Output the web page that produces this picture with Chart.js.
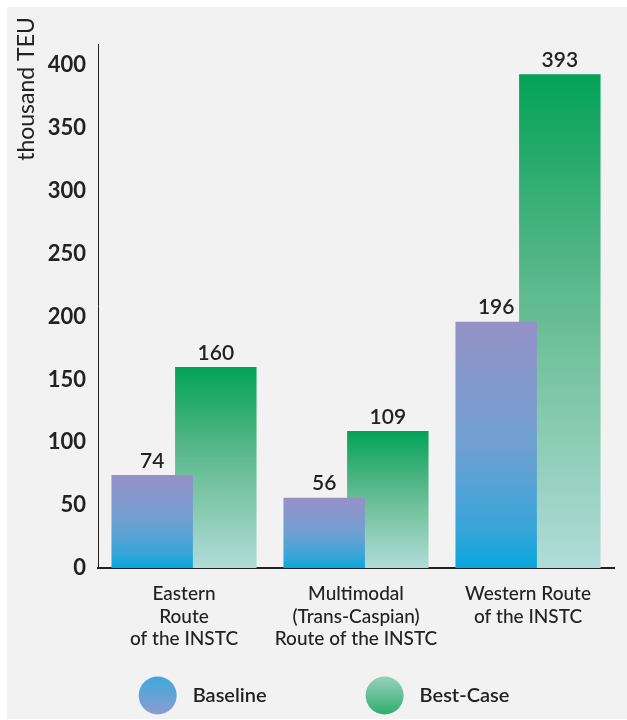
<!DOCTYPE html>
<html>
<head>
<meta charset="utf-8">
<script src="https://cdn.jsdelivr.net/npm/chart.js@4/dist/chart.umd.min.js"></script>
<style>
  html, body { margin: 0; padding: 0; background: #ffffff; }
  #panel { position: absolute; left: 7px; top: 7px; width: 620px; height: 712px; background: #f2f2f2; }
  canvas { display: block; }
</style>
</head>
<body>
<div id="panel"><canvas id="chart" width="620" height="712"></canvas></div>
<script>
// Container traffic by route, thousand TEU
const categories = [
  ["Eastern", "Route", "of the INSTC"],
  ["Multimodal", "(Trans-Caspian)", "Route of the INSTC"],
  ["Western Route", "of the INSTC"]
];
const seriesNames = ["Baseline", "Best-Case"];
const baselineValues = [74, 56, 196];
const bestCaseValues = [160, 109, 393];
const yTickValues = [0, 50, 100, 150, 200, 250, 300, 350, 400];
const yAxisTitle = "thousand TEU";

const INK = '#222222';
const FONT = 'Lato, "Open Sans", sans-serif';

// vertical colour ramps, top of bar first
const baselineStops = [[0, '#9591c6'], [0.5, '#70a0d3'], [0.85, '#36a5d9'], [1, '#05a7dc']];
const bestStops = [[0, '#02a357'], [0.35, '#4db483'], [0.6, '#78c4a2'], [1, '#b0dcd8']];
// legend swatches run the other way
const baselineSwatch = [[0, '#40a8dc'], [1, '#8b9cd0']];
const bestSwatch = [[0, '#98d1bc'], [1, '#2fad6f']];

function barGradient(stops) {
  return (ctx) => {
    const chart = ctx.chart;
    if (!chart.chartArea || ctx.type !== 'data') return stops[0][1];
    const y = chart.scales.y;
    const top = y.getPixelForValue(ctx.raw);
    const bottom = y.getPixelForValue(0);
    const g = chart.ctx.createLinearGradient(0, top, 0, bottom);
    stops.forEach(([o, c]) => g.addColorStop(o, c));
    return g;
  };
}

// numbers above each bar
const valueLabels = {
  id: 'valueLabels',
  afterDatasetsDraw(chart) {
    const ctx = chart.ctx;
    ctx.save();
    ctx.font = `600 21px ${FONT}`;
    ctx.fillStyle = INK;
    ctx.textAlign = 'center';
    ctx.textBaseline = 'middle';
    chart.data.datasets.forEach((ds, i) => {
      chart.getDatasetMeta(i).data.forEach((bar, j) => {
        ctx.fillText(String(ds.data[j]), bar.x, bar.y - 14);
      });
    });
    ctx.restore();
  }
};

// rotated axis caption near the top of the value axis
const axisCaption = {
  id: 'axisCaption',
  afterDraw(chart) {
    const ctx = chart.ctx;
    ctx.save();
    ctx.translate(20, 82);
    ctx.rotate(-Math.PI / 2);
    ctx.font = `400 23px ${FONT}`;
    ctx.fillStyle = INK;
    ctx.textAlign = 'center';
    ctx.textBaseline = 'middle';
    ctx.fillText(yAxisTitle, 0, 0);
    ctx.restore();
  }
};

// legend with round gradient swatches
const roundLegend = {
  id: 'roundLegend',
  afterDraw(chart) {
    const ctx = chart.ctx;
    const swatches = [baselineSwatch, bestSwatch];
    const r = 19, gapText = 16, gapItem = 99, cy = 688.5, centerX = 317;
    ctx.save();
    ctx.font = `600 20px ${FONT}`;
    const widths = chart.data.datasets.map(ds => ctx.measureText(ds.label).width);
    const total = widths.reduce((a, w) => a + 2 * r + gapText + w, 0) + gapItem * (widths.length - 1);
    let x = centerX - total / 2;
    chart.data.datasets.forEach((ds, i) => {
      const g = ctx.createLinearGradient(0, cy - r, 0, cy + r);
      swatches[i].forEach(([o, c]) => g.addColorStop(o, c));
      ctx.beginPath();
      ctx.arc(x + r, cy, r, 0, Math.PI * 2);
      ctx.fillStyle = g;
      ctx.fill();
      ctx.fillStyle = INK;
      ctx.textAlign = 'left';
      ctx.textBaseline = 'middle';
      ctx.fillText(ds.label, x + 2 * r + gapText, cy);
      x += 2 * r + gapText + widths[i] + gapItem;
    });
    ctx.restore();
  }
};

new Chart(document.getElementById('chart'), {
  type: 'bar',
  data: {
    labels: categories,
    datasets: [
      {
        label: seriesNames[0],
        data: baselineValues,
        backgroundColor: barGradient(baselineStops),
        borderWidth: 0,
        categoryPercentage: 0.74,
        barPercentage: 1.28
      },
      {
        label: seriesNames[1],
        data: bestCaseValues,
        backgroundColor: barGradient(bestStops),
        borderWidth: 0,
        categoryPercentage: 0.74,
        barPercentage: 1.28
      }
    ]
  },
  options: {
    responsive: false,
    animation: false,
    devicePixelRatio: 1,
    layout: { padding: { top: 37, right: 13, left: 0, bottom: 0 } },
    plugins: {
      legend: { display: false },
      tooltip: { enabled: false }
    },
    scales: {
      x: {
        afterFit: (s) => { s.height = 151; },
        grid: { display: false, drawTicks: false },
        border: { display: true, color: INK, width: 2 },
        ticks: {
          padding: 15,
          color: INK,
          maxRotation: 0,
          autoSkip: false,
          font: { family: FONT, weight: '500', size: 19, lineHeight: 1.18 }
        }
      },
      y: {
        min: 0,
        max: 417,
        afterFit: (s) => { s.width = 91; },
        afterBuildTicks: (s) => { s.ticks = yTickValues.map(v => ({ value: v })); },
        grid: { display: false, drawTicks: false },
        border: { display: true, color: INK, width: 1 },
        ticks: {
          padding: 12,
          color: INK,
          font: { family: FONT, weight: 'bold', size: 22 }
        }
      }
    }
  },
  plugins: [valueLabels, axisCaption, roundLegend]
});
</script>
</body>
</html>
